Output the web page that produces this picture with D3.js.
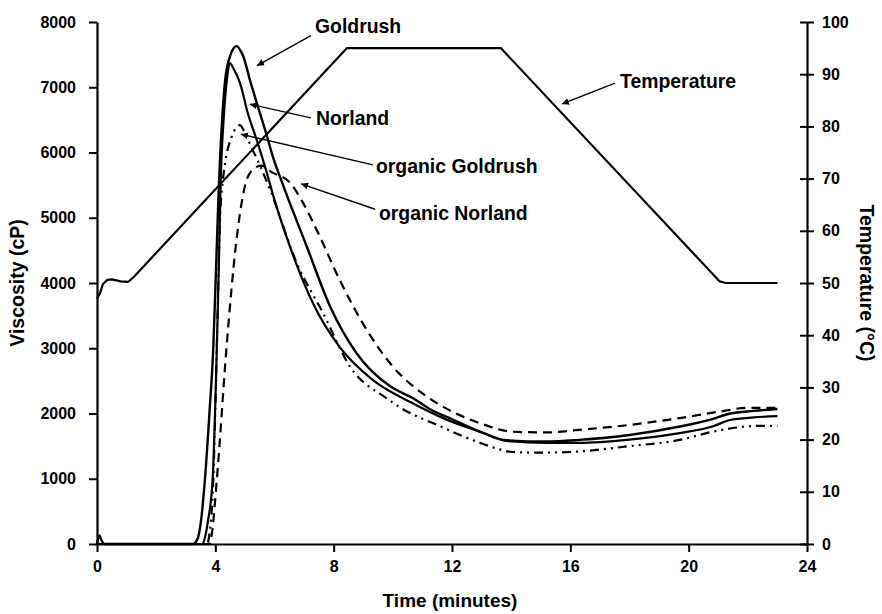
<!DOCTYPE html>
<html>
<head>
<meta charset="utf-8">
<script src="https://cdn.jsdelivr.net/npm/d3@7"></script>
<style>
  body { margin: 0; background: #fff; }
  svg text { font-family: Arial, "Liberation Sans", sans-serif; font-weight: bold; fill: #000; }
</style>
</head>
<body>
<div id="svg-container"></div>
<script>
//////////////////////////////  Data  //////////////////////////////
// [time (min), viscosity (cP)]
const goldrush = [
  [0, 0], [0.08, 130], [0.15, 60], [0.25, 0], [3.25, 0], [3.4, 80], [3.5, 300], [3.65, 1000],
  [3.8, 2000], [3.93, 3000], [4.03, 4300], [4.12, 5500], [4.21, 6350], [4.33, 7100], [4.5, 7480],
  [4.62, 7600], [4.72, 7630], [4.85, 7560], [4.94, 7480], [5.17, 7110], [5.4, 6760], [5.68, 6350],
  [5.95, 5930], [6.29, 5500], [7.09, 4560], [7.88, 3640], [8.78, 2920], [9.9, 2420], [10.7, 2230],
  [11.36, 2040], [11.82, 1950], [12.95, 1720], [13.85, 1590], [15.2, 1570], [16.3, 1595],
  [18.0, 1670], [19.7, 1800], [20.8, 1915], [21.4, 2000], [22.2, 2040], [23, 2070]
];
const norland = [
  [0, 0], [3.55, 0], [3.65, 100], [3.75, 350], [3.91, 1000], [4.05, 3000], [4.12, 4300],
  [4.18, 5550], [4.28, 6500], [4.4, 7150], [4.5, 7370], [4.6, 7300], [4.83, 7070], [5.1, 6600],
  [5.4, 6190], [5.74, 5690], [5.95, 5350], [6.52, 4560], [7.3, 3690], [8.2, 3020], [9.33, 2510],
  [10.7, 2150], [11.8, 1910], [12.95, 1720], [13.85, 1580], [15.2, 1550], [16.3, 1550],
  [18.0, 1600], [19.7, 1700], [20.8, 1800], [21.4, 1900], [22.2, 1940], [23, 1960]
];
const organicGoldrush = [
  [0, 0], [3.72, 0], [3.8, 150], [3.93, 980], [4.05, 3000], [4.16, 5000], [4.25, 5550],
  [4.33, 5840], [4.55, 6240], [4.75, 6400], [4.83, 6420], [5.0, 6300], [5.2, 6100], [5.51, 5800],
  [5.85, 5430], [6.75, 4310], [7.64, 3540], [8.55, 2720], [9.8, 2230], [10.4, 2050], [11.0, 1920],
  [11.5, 1825], [12.27, 1670], [12.95, 1550], [13.45, 1470], [14.06, 1410], [15, 1400],
  [16, 1410], [18, 1500], [19.7, 1595], [20.8, 1720], [22.4, 1810], [23, 1810]
];
const organicNorland = [
  [0, 0], [3.8, 0], [3.88, 150], [4.05, 980], [4.38, 3020], [4.7, 4600], [5.06, 5580],
  [5.3, 5750], [5.55, 5800], [5.9, 5700], [6.52, 5540], [6.9, 5280], [7.43, 4810], [8.2, 4050],
  [9.12, 3280], [10.0, 2720], [11.15, 2260], [12.0, 2030], [12.95, 1850], [14.06, 1720],
  [15.2, 1710], [16.3, 1750], [18, 1825], [19.7, 1930], [21.06, 2030], [21.96, 2085], [23, 2085]
];
// [time (min), temperature (°C)]
const temperature = [
  [0, 47], [0.1, 48], [0.2, 49.8], [0.35, 50.6], [0.5, 50.7], [0.8, 50.3], [1.05, 50.2],
  [1.25, 51.2], [8.45, 95], [13.65, 95], [21.05, 50.3], [21.25, 50], [23, 50]
];

const xTicks = [0, 4, 8, 12, 16, 20, 24];
const yTicks = [0, 1000, 2000, 3000, 4000, 5000, 6000, 7000, 8000];
const tTicks = [0, 10, 20, 30, 40, 50, 60, 70, 80, 90, 100];

// annotations: tip / line start / text, in data units (temperature one on right axis)
const labels = [
  { text: "Goldrush", tip: [5.41, 7330], from: [7.23, 7790], at: [7.37, 7830], axis: "v" },
  { text: "Norland", tip: [5.17, 6740], from: [7.23, 6530], at: [7.4, 6420], axis: "v" },
  { text: "organic Goldrush", tip: [4.87, 6280], from: [9.33, 5810], at: [9.43, 5690], axis: "v" },
  { text: "organic Norland", tip: [6.9, 5520], from: [9.4, 5130], at: [9.53, 4970], axis: "v" },
  { text: "Temperature", tip: [15.72, 84.3], from: [17.51, 88.3], at: [17.68, 87.4], axis: "t" }
];

////////////////////////////  Init  ///////////////////////////////
const width = 882;
const height = 614;
const margin = { top: 22, right: 75, bottom: 70, left: 97 };

const svg = d3.select("#svg-container").append("svg")
  .attr("width", width).attr("height", height);

const xScale = d3.scaleLinear().domain([0, 24]).range([margin.left, width - margin.right]);
const yScale = d3.scaleLinear().domain([0, 8000]).range([height - margin.bottom, margin.top]);
const tScale = d3.scaleLinear().domain([0, 100]).range([height - margin.bottom, margin.top]);

//////////////////////////// Axes ////////////////////////////
const xAxisG = svg.append("g")
  .attr("transform", `translate(0, ${height - margin.bottom})`)
  .call(d3.axisBottom(xScale).tickValues(xTicks).tickFormat(d3.format("d"))
    .tickSize(8).tickSizeOuter(0).tickPadding(9));

const yAxisG = svg.append("g")
  .attr("transform", `translate(${margin.left}, 0)`)
  .call(d3.axisLeft(yScale).tickValues(yTicks).tickFormat(d3.format("d"))
    .tickSize(8).tickSizeOuter(0).tickPadding(13));

const tAxisG = svg.append("g")
  .attr("transform", `translate(${width - margin.right}, 0)`)
  .call(d3.axisRight(tScale).tickValues(tTicks).tickFormat(d3.format("d"))
    .tickSize(7).tickSizeOuter(0).tickPadding(8));
tAxisG.selectAll(".tick line").attr("x1", -7);

[xAxisG, yAxisG, tAxisG].forEach((g) => {
  g.select(".domain").attr("stroke", "#000").attr("stroke-width", 2.2);
  g.selectAll(".tick line").attr("stroke", "#000").attr("stroke-width", 2);
  g.selectAll("text").attr("font-size", 16).attr("font-family", "Arial, 'Liberation Sans', sans-serif")
    .attr("font-weight", "bold").attr("fill", "#000");
});

// axis titles
svg.append("text")
  .attr("x", 450).attr("y", 607)
  .attr("text-anchor", "middle").attr("font-size", 19)
  .text("Time (minutes)");

svg.append("text")
  .attr("transform", `translate(24, ${(margin.top + height - margin.bottom) / 2}) rotate(-90)`)
  .attr("text-anchor", "middle").attr("font-size", 19.5)
  .text("Viscosity (cP)");

svg.append("text")
  .attr("transform", `translate(860, ${(margin.top + height - margin.bottom) / 2}) rotate(90)`)
  .attr("text-anchor", "middle").attr("font-size", 19.5)
  .text("Temperature (°C)");

//////////////////////////// Lines ////////////////////////////
const vLine = d3.line()
  .x((d) => xScale(d[0]))
  .y((d) => yScale(d[1]))
  .curve(d3.curveMonotoneX);

const tLine = d3.line()
  .x((d) => xScale(d[0]))
  .y((d) => tScale(d[1]));

const series = [
  { data: organicNorland, dash: "9,6", w: 2.2 },
  { data: organicGoldrush, dash: "9,5,2,5,2,5", w: 2.2 },
  { data: norland, dash: null, w: 2.2 },
  { data: goldrush, dash: null, w: 2.4 }
];

series.forEach((s) => {
  svg.append("path")
    .datum(s.data)
    .attr("d", vLine)
    .attr("fill", "none")
    .attr("stroke", "#000")
    .attr("stroke-width", s.w)
    .attr("stroke-dasharray", s.dash);
});

svg.append("path")
  .datum(temperature)
  .attr("d", tLine)
  .attr("fill", "none")
  .attr("stroke", "#000")
  .attr("stroke-width", 2.2)
  .attr("stroke-linejoin", "round");

//////////////////////////// Annotations ////////////////////////////
svg.append("defs").append("marker")
  .attr("id", "arrow")
  .attr("viewBox", "0 0 10 10")
  .attr("refX", 10).attr("refY", 5)
  .attr("markerWidth", 7).attr("markerHeight", 7)
  .attr("markerUnits", "userSpaceOnUse")
  .attr("orient", "auto")
  .append("path")
  .attr("d", "M0,0 L10,5 L0,10 z")
  .attr("fill", "#000");

labels.forEach((l) => {
  const sy = l.axis === "t" ? tScale : yScale;
  svg.append("line")
    .attr("x1", xScale(l.from[0])).attr("y1", sy(l.from[1]))
    .attr("x2", xScale(l.tip[0])).attr("y2", sy(l.tip[1]))
    .attr("stroke", "#000").attr("stroke-width", 1.4)
    .attr("marker-end", "url(#arrow)");
  svg.append("text")
    .attr("x", xScale(l.at[0])).attr("y", sy(l.at[1]))
    .attr("font-size", 19.4)
    .text(l.text);
});
</script>
</body>
</html>
